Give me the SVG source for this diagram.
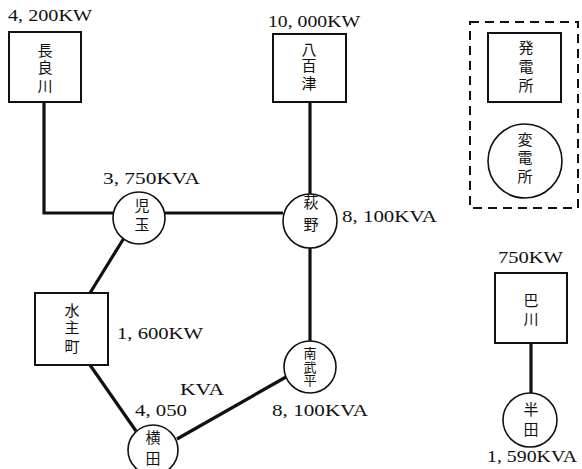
<svg xmlns="http://www.w3.org/2000/svg" width="582" height="469" viewBox="0 0 582 469">
  <style>
    .box { fill: #fff; stroke: #111; stroke-width: 2; }
    .sub { fill: #fff; stroke: #111; stroke-width: 1.6; }
    .line { fill: none; stroke: #111; stroke-width: 3.2; stroke-linecap: butt; }
    .name { font-family: "Noto Sans CJK JP", "Noto Sans CJK SC", sans-serif; font-size: 15px; fill: #111; text-anchor: middle; }
    .small { font-size: 13px; }
    .val { font-family: "Liberation Serif", "Times New Roman", serif; font-size: 16px; fill: #111; }
    .legend { fill: none; stroke: #111; stroke-width: 2; stroke-dasharray: 9 6; }
  </style>
  <rect width="582" height="469" fill="#fff"/>

  <!-- transmission lines -->
  <g id="connectors">
    <polyline class="line" points="44,102 44,213 113,213" stroke-width="4"/>
    <line class="line" x1="165" y1="213" x2="283" y2="213"/>
    <line class="line" x1="310" y1="102" x2="310" y2="194"/>
    <line class="line" x1="310" y1="248" x2="310" y2="342"/>
    <line class="line" x1="124" y1="238" x2="90" y2="293"/>
    <line class="line" x1="90" y1="365" x2="136" y2="431"/>
    <line class="line" x1="177" y1="439" x2="286" y2="377"/>
    <line class="line" x1="531" y1="343" x2="531" y2="393"/>
  </g>

  <!-- power stations -->
  <g id="nagara">
    <rect class="box" x="9" y="32" width="72" height="70"/>
    <text class="name" x="45" y="56"><tspan x="45">長</tspan><tspan x="45" dy="17">良</tspan><tspan x="45" dy="19">川</tspan></text>
    <text class="val" x="8" y="21" textLength="84" lengthAdjust="spacingAndGlyphs">4, 200KW</text>
  </g>

  <g id="yaotsu">
    <rect class="box" x="273" y="34" width="73" height="68"/>
    <text class="name" x="309" y="55"><tspan x="309">八</tspan><tspan x="309" dy="16">百</tspan><tspan x="309" dy="18">津</tspan></text>
    <text class="val" x="268" y="27" textLength="92" lengthAdjust="spacingAndGlyphs">10, 000KW</text>
  </g>

  <g id="mizunushicho">
    <rect class="box" x="35" y="293" width="73" height="72"/>
    <text class="name" x="72" y="316"><tspan x="72">水</tspan><tspan x="72" dy="17">主</tspan><tspan x="72" dy="19">町</tspan></text>
    <text class="val" x="117" y="339" textLength="86" lengthAdjust="spacingAndGlyphs">1, 600KW</text>
  </g>

  <g id="tomoegawa">
    <rect class="box" x="495" y="273" width="72" height="70"/>
    <text class="name" x="531" y="306"><tspan x="531">巴</tspan><tspan x="531" dy="19">川</tspan></text>
    <text class="val" x="498" y="263" textLength="65" lengthAdjust="spacingAndGlyphs">750KW</text>
  </g>

  <!-- substations -->
  <g id="kodama">
    <circle class="sub" cx="139" cy="218" r="26"/>
    <text class="name" x="142" y="211"><tspan x="142">児</tspan><tspan x="142" dy="19">玉</tspan></text>
    <text class="val" x="103" y="184" textLength="97" lengthAdjust="spacingAndGlyphs">3, 750KVA</text>
  </g>

  <g id="hagino">
    <circle class="sub" cx="310" cy="221" r="27"/>
    <text class="name" x="311" y="208"><tspan x="311">萩</tspan><tspan x="311" dy="22">野</tspan></text>
    <text class="val" x="342" y="222" textLength="95" lengthAdjust="spacingAndGlyphs">8, 100KVA</text>
  </g>

  <g id="nanbudaira">
    <circle class="sub" cx="310" cy="367" r="26"/>
    <text class="name small" x="310" y="358"><tspan x="310">南</tspan><tspan x="310" dy="14">武</tspan><tspan x="310" dy="13">平</tspan></text>
    <text class="val" x="272" y="416" textLength="96" lengthAdjust="spacingAndGlyphs">8, 100KVA</text>
  </g>

  <g id="yokota">
    <circle class="sub" cx="153" cy="450" r="25"/>
    <text class="name" x="153" y="443"><tspan x="153">横</tspan><tspan x="153" dy="21">田</tspan></text>
    <text class="val" x="180" y="395" textLength="44" lengthAdjust="spacingAndGlyphs">KVA</text>
    <text class="val" x="135" y="416" textLength="52" lengthAdjust="spacingAndGlyphs">4, 050</text>
  </g>

  <g id="handa">
    <circle class="sub" cx="530" cy="420" r="27"/>
    <text class="name" x="531" y="415"><tspan x="531">半</tspan><tspan x="531" dy="20">田</tspan></text>
    <text class="val" x="487" y="462" textLength="90" lengthAdjust="spacingAndGlyphs">1, 590KVA</text>
  </g>

  <!-- key -->
  <g id="legend">
    <rect class="legend" x="470" y="22" width="108" height="186"/>
    <rect class="box" x="488" y="33" width="73" height="69"/>
    <text class="name" x="526" y="53"><tspan x="526">発</tspan><tspan x="526" dy="19">電</tspan><tspan x="526" dy="19">所</tspan></text>
    <circle class="sub" cx="525" cy="161" r="37"/>
    <text class="name" x="525" y="145"><tspan x="525">変</tspan><tspan x="525" dy="18">電</tspan><tspan x="525" dy="19">所</tspan></text>
  </g>
</svg>
